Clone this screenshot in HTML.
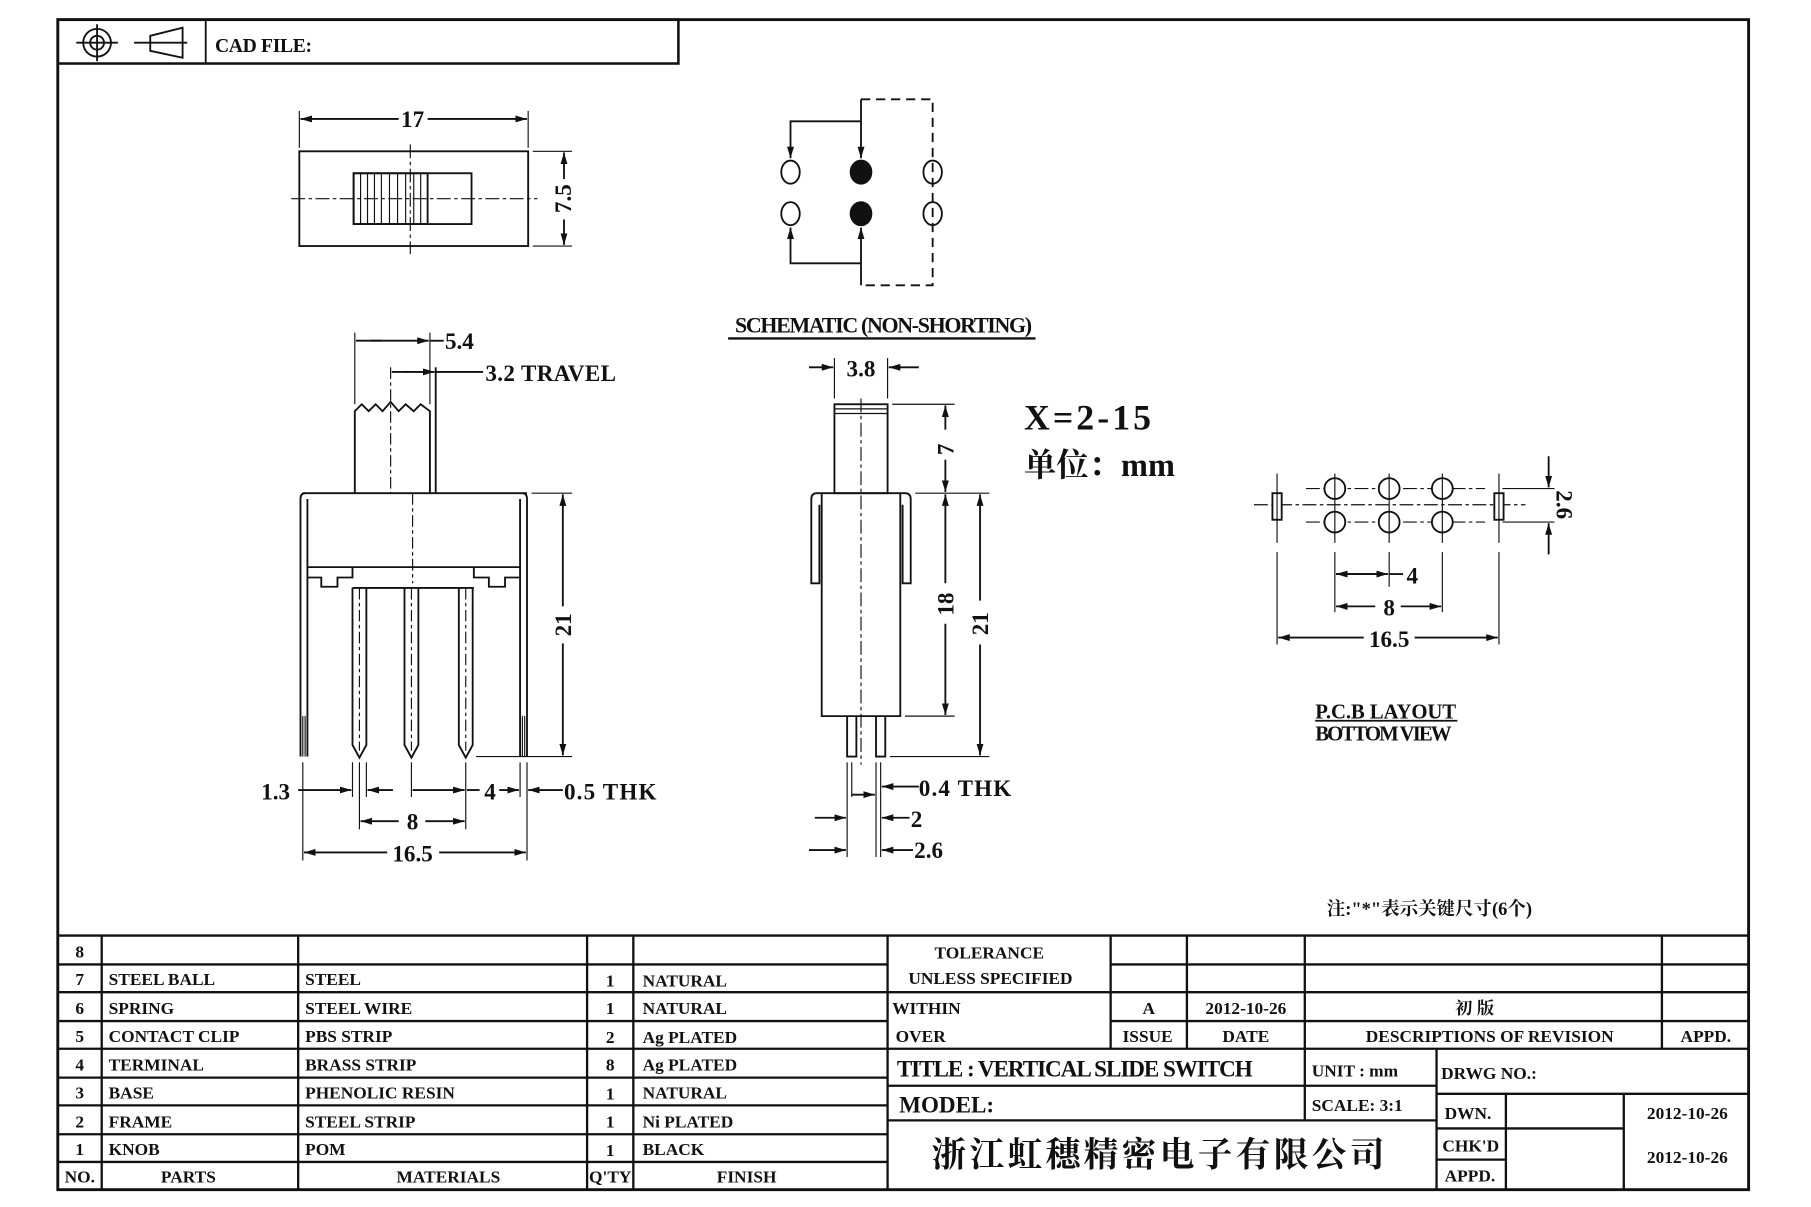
<!DOCTYPE html>
<html><head><meta charset="utf-8"><style>
html,body{margin:0;padding:0;background:#fff}
svg{display:block}
text{font-family:"Liberation Serif","Noto Serif CJK SC",serif;font-weight:bold;fill:#111}
.t{font-size:15px}
.c{font-family:"Liberation Serif","Noto Serif CJK SC",serif}
</style></head><body>
<svg width="1811" height="1207" viewBox="0 0 1567 1045" preserveAspectRatio="none" xmlns="http://www.w3.org/2000/svg">
<defs>
<marker id="a" markerWidth="10" markerHeight="6" refX="10" refY="3" orient="auto" markerUnits="userSpaceOnUse"><path d="M0,0 L10,3 L0,6z" fill="#111"/></marker>
</defs>
<g stroke="#111" fill="none" stroke-width="1.6">
<rect x="50" y="17" width="1463" height="1013" stroke-width="2.5"/>
<rect x="50" y="17" width="537" height="38" stroke-width="2.2"/>
<line x1="178" y1="17" x2="178" y2="55"/>
<circle cx="84" cy="37" r="12"/><circle cx="84" cy="37" r="6"/>
<line x1="66" y1="37" x2="102" y2="37"/><line x1="84" y1="21" x2="84" y2="53"/>
<path d="M130,31 L158,24 L158,50 L130,44z"/><line x1="116" y1="37" x2="162" y2="37"/>

<rect x="259" y="131" width="198" height="82"/>
<rect x="306" y="150" width="102" height="44"/>
<rect x="306" y="150" width="64" height="44"/>
<g stroke-width="1"><line x1="312" y1="150" x2="312" y2="194"/><line x1="318" y1="150" x2="318" y2="194"/><line x1="324" y1="150" x2="324" y2="194"/><line x1="330" y1="150" x2="330" y2="194"/><line x1="337" y1="150" x2="337" y2="194"/><line x1="344" y1="150" x2="344" y2="194"/><line x1="351" y1="150" x2="351" y2="194"/><line x1="358" y1="150" x2="358" y2="194"/><line x1="364" y1="150" x2="364" y2="194"/></g>
<line x1="252" y1="172" x2="465" y2="172" stroke-width="1" stroke-dasharray="12,3,3,3"/>
<line x1="355" y1="125" x2="355" y2="220" stroke-width="1" stroke-dasharray="12,3,3,3"/>
<line x1="259" y1="96" x2="259" y2="128" stroke-width="1"/><line x1="457" y1="96" x2="457" y2="128" stroke-width="1"/>
<line x1="345" y1="103" x2="260" y2="103" marker-end="url(#a)"/><line x1="370" y1="103" x2="456" y2="103" marker-end="url(#a)"/>
<line x1="461" y1="131" x2="495" y2="131" stroke-width="1"/><line x1="461" y1="213" x2="495" y2="213" stroke-width="1"/>
<line x1="488" y1="155" x2="488" y2="132" marker-end="url(#a)"/><line x1="488" y1="190" x2="488" y2="212" marker-end="url(#a)"/>

<ellipse cx="684" cy="149" rx="8" ry="10"/><ellipse cx="684" cy="185" rx="8" ry="10"/>
<ellipse cx="807" cy="149" rx="8" ry="10"/><ellipse cx="807" cy="185" rx="8" ry="10"/>
<ellipse cx="745" cy="149" rx="9" ry="10" fill="#111"/><ellipse cx="745" cy="185" rx="9" ry="10" fill="#111"/>
<path d="M745,105 L684,105 L684,137" marker-end="url(#a)"/><line x1="745" y1="86" x2="745" y2="137" marker-end="url(#a)"/>
<path d="M745,228 L684,228 L684,197" marker-end="url(#a)"/><line x1="745" y1="247" x2="745" y2="197" marker-end="url(#a)"/>
<path d="M745,86 L807,86 L807,247 L745,247" stroke-dasharray="8,5"/>
<line x1="630" y1="293" x2="896" y2="293" stroke-width="2"/>

<path d="M307,427 L307,356 L313,350 L319,356 L325,350 L331,356 L338,348 L345,356 L351,350 L358,356 L364,350 L372,356 L372,427"/>
<line x1="377" y1="318" x2="377" y2="427"/>
<line x1="338" y1="318" x2="338" y2="427" stroke-width="1" stroke-dasharray="10,3,3,3"/>
<line x1="307" y1="288" x2="307" y2="350" stroke-width="1"/><line x1="372" y1="288" x2="372" y2="350" stroke-width="1"/>
<line x1="320" y1="295" x2="371" y2="295" marker-end="url(#a)"/><line x1="308" y1="295" x2="330" y2="295"/><line x1="372" y1="295" x2="384" y2="295"/>
<line x1="350" y1="322" x2="376" y2="322" marker-end="url(#a)"/><line x1="339" y1="322" x2="352" y2="322"/><line x1="377" y1="322" x2="418" y2="322"/>
<path d="M262,427 L456,427 M260,432 L260,655 M266,432 L266,655 M456,432 L456,655 M450,432 L450,655"/>
<path d="M260,432 Q260,427 264,427 M456,432 Q456,427 452,427"/>
<path d="M266,491 L450,491 M266,500 L278,500 L278,508 L292,508 L292,500 L305,500 L305,491 M410,491 L410,500 L423,500 L423,508 L437,508 L437,500 L450,500"/>
<line x1="305" y1="509" x2="410" y2="509"/>
<line x1="357" y1="427" x2="357" y2="505" stroke-width="1" stroke-dasharray="10,3,3,3"/>
<path d="M305,509 L305,645 L311,656 L317,645 L317,509"/>
<path d="M350,509 L350,645 L356,656 L362,645 L362,509"/>
<path d="M397,509 L397,645 L403,656 L409,645 L409,509"/>
<line x1="311" y1="509" x2="311" y2="650" stroke-width="1" stroke-dasharray="10,3,3,3"/>
<line x1="356" y1="509" x2="356" y2="650" stroke-width="1" stroke-dasharray="10,3,3,3"/>
<line x1="403" y1="509" x2="403" y2="650" stroke-width="1" stroke-dasharray="10,3,3,3"/>
<g stroke-width="1"><line x1="262" y1="620" x2="262" y2="655"/><line x1="264" y1="620" x2="264" y2="655"/><line x1="452" y1="620" x2="452" y2="655"/><line x1="454" y1="620" x2="454" y2="655"/></g>
<line x1="460" y1="427" x2="495" y2="427" stroke-width="1"/><line x1="412" y1="655" x2="495" y2="655" stroke-width="1"/>
<line x1="487" y1="525" x2="487" y2="428" marker-end="url(#a)"/><line x1="487" y1="557" x2="487" y2="654" marker-end="url(#a)"/>
<g stroke-width="1"><line x1="262" y1="660" x2="262" y2="745"/><line x1="305" y1="660" x2="305" y2="690"/><line x1="311" y1="660" x2="311" y2="718"/><line x1="317" y1="660" x2="317" y2="690"/><line x1="356" y1="660" x2="356" y2="690"/><line x1="403" y1="660" x2="403" y2="718"/><line x1="450" y1="660" x2="450" y2="690"/><line x1="456" y1="660" x2="456" y2="745"/></g>
<line x1="258" y1="684" x2="304" y2="684" marker-end="url(#a)"/><line x1="340" y1="684" x2="318" y2="684" marker-end="url(#a)"/>
<line x1="357" y1="684" x2="402" y2="684" marker-end="url(#a)"/><line x1="415" y1="684" x2="404" y2="684"/><line x1="432" y1="684" x2="449" y2="684" marker-end="url(#a)"/>
<line x1="487" y1="684" x2="457" y2="684" marker-end="url(#a)"/>
<line x1="345" y1="711" x2="312" y2="711" marker-end="url(#a)"/><line x1="368" y1="711" x2="402" y2="711" marker-end="url(#a)"/>
<line x1="335" y1="738" x2="263" y2="738" marker-end="url(#a)"/><line x1="380" y1="738" x2="455" y2="738" marker-end="url(#a)"/>

<rect x="722" y="350" width="46" height="77"/>
<line x1="722" y1="354" x2="768" y2="354" stroke-width="1"/><line x1="722" y1="358" x2="768" y2="358" stroke-width="1"/>
<path d="M702,432 Q702,427 707,427 L783,427 Q788,427 788,432 L788,505 L781,505 L781,437 M702,432 L702,505 L709,505 L709,437"/>
<path d="M711,427 L711,620 L779,620 L779,427"/>
<path d="M733,620 L733,655 L741,655 L741,620 M758,620 L758,655 L766,655 L766,620"/>
<line x1="745" y1="345" x2="745" y2="662" stroke-width="1" stroke-dasharray="12,3,3,3"/>
<line x1="722" y1="310" x2="722" y2="345" stroke-width="1"/><line x1="768" y1="310" x2="768" y2="345" stroke-width="1"/>
<line x1="700" y1="318" x2="721" y2="318" marker-end="url(#a)"/><line x1="795" y1="318" x2="769" y2="318" marker-end="url(#a)"/>
<line x1="772" y1="350" x2="826" y2="350" stroke-width="1"/><line x1="792" y1="427" x2="856" y2="427" stroke-width="1"/>
<line x1="783" y1="620" x2="826" y2="620" stroke-width="1"/><line x1="770" y1="655" x2="856" y2="655" stroke-width="1"/>
<line x1="818" y1="372" x2="818" y2="351" marker-end="url(#a)"/><line x1="818" y1="398" x2="818" y2="426" marker-end="url(#a)"/>
<line x1="818" y1="505" x2="818" y2="428" marker-end="url(#a)"/><line x1="818" y1="540" x2="818" y2="619" marker-end="url(#a)"/>
<line x1="848" y1="520" x2="848" y2="428" marker-end="url(#a)"/><line x1="848" y1="558" x2="848" y2="654" marker-end="url(#a)"/>
<g stroke-width="1"><line x1="733" y1="660" x2="733" y2="742"/><line x1="737" y1="660" x2="737" y2="690"/><line x1="758" y1="660" x2="758" y2="742"/><line x1="762" y1="660" x2="762" y2="742"/></g>
<line x1="737" y1="688" x2="757" y2="688" marker-end="url(#a)"/><line x1="795" y1="681" x2="763" y2="681" marker-end="url(#a)"/>
<line x1="705" y1="708" x2="732" y2="708" marker-end="url(#a)"/><line x1="787" y1="708" x2="763" y2="708" marker-end="url(#a)"/>
<line x1="700" y1="736" x2="732" y2="736" marker-end="url(#a)"/><line x1="790" y1="736" x2="763" y2="736" marker-end="url(#a)"/>

<line x1="1085" y1="437" x2="1320" y2="437" stroke-width="1" stroke-dasharray="12,3,3,3"/>
<line x1="1130" y1="423" x2="1285" y2="423" stroke-width="1" stroke-dasharray="12,3,3,3"/>
<line x1="1130" y1="452" x2="1285" y2="452" stroke-width="1" stroke-dasharray="12,3,3,3"/>
<g fill="#fff">
<circle cx="1155" cy="423" r="9"/><circle cx="1202" cy="423" r="9"/><circle cx="1248" cy="423" r="9"/>
<circle cx="1155" cy="452" r="9"/><circle cx="1202" cy="452" r="9"/><circle cx="1248" cy="452" r="9"/>
<rect x="1101" y="427" width="8" height="23"/><rect x="1293" y="427" width="8" height="23"/>
</g>
<g stroke-width="1">
<line x1="1155" y1="410" x2="1155" y2="470"/><line x1="1202" y1="410" x2="1202" y2="470"/><line x1="1248" y1="410" x2="1248" y2="470"/>
<line x1="1105" y1="410" x2="1105" y2="470"/><line x1="1297" y1="410" x2="1297" y2="470"/>
<line x1="1155" y1="478" x2="1155" y2="530"/><line x1="1202" y1="478" x2="1202" y2="508"/><line x1="1248" y1="478" x2="1248" y2="530"/>
<line x1="1105" y1="478" x2="1105" y2="558"/><line x1="1297" y1="478" x2="1297" y2="558"/>
<line x1="1300" y1="423" x2="1345" y2="423"/><line x1="1300" y1="452" x2="1345" y2="452"/>
</g>
<line x1="1340" y1="395" x2="1340" y2="422" marker-end="url(#a)"/><line x1="1340" y1="480" x2="1340" y2="453" marker-end="url(#a)"/>
<line x1="1156" y1="497" x2="1201" y2="497" marker-end="url(#a)"/><line x1="1200" y1="497" x2="1156" y2="497" marker-end="url(#a)"/><line x1="1202" y1="497" x2="1214" y2="497"/>
<line x1="1190" y1="525" x2="1156" y2="525" marker-end="url(#a)"/><line x1="1212" y1="525" x2="1247" y2="525" marker-end="url(#a)"/>
<line x1="1180" y1="552" x2="1106" y2="552" marker-end="url(#a)"/><line x1="1224" y1="552" x2="1296" y2="552" marker-end="url(#a)"/>
<line x1="1138" y1="624" x2="1261" y2="624" stroke-width="1.5"/>

<g stroke-width="2">
<line x1="50" y1="810" x2="1513" y2="810"/>
<line x1="50" y1="835" x2="768" y2="835"/><line x1="961" y1="835" x2="1513" y2="835"/>
<line x1="50" y1="859" x2="1513" y2="859"/>
<line x1="50" y1="884" x2="768" y2="884"/><line x1="961" y1="884" x2="1513" y2="884"/>
<line x1="50" y1="908" x2="1513" y2="908"/>
<line x1="50" y1="933" x2="768" y2="933"/>
<line x1="768" y1="940" x2="1243" y2="940"/>
<line x1="50" y1="957" x2="768" y2="957"/>
<line x1="1243" y1="947" x2="1513" y2="947"/>
<line x1="768" y1="970" x2="1243" y2="970"/>
<line x1="50" y1="982" x2="768" y2="982"/>
<line x1="1243" y1="977" x2="1405" y2="977"/>
<line x1="50" y1="1006" x2="768" y2="1006"/>
<line x1="1243" y1="1004" x2="1303" y2="1004"/>
<line x1="88" y1="810" x2="88" y2="1030"/><line x1="258" y1="810" x2="258" y2="1030"/>
<line x1="508" y1="810" x2="508" y2="1030"/><line x1="548" y1="810" x2="548" y2="1030"/>
<line x1="768" y1="810" x2="768" y2="1030"/>
<line x1="961" y1="810" x2="961" y2="908"/><line x1="1027" y1="810" x2="1027" y2="908"/>
<line x1="1129" y1="810" x2="1129" y2="970"/><line x1="1438" y1="810" x2="1438" y2="908"/>
<line x1="1243" y1="908" x2="1243" y2="1030"/><line x1="1303" y1="947" x2="1303" y2="1030"/><line x1="1405" y1="947" x2="1405" y2="1030"/>
</g>
</g>

<text x="186" y="45" font-size="17" textLength="84">CAD FILE:</text>
<text x="357" y="110" font-size="20" text-anchor="middle">17</text>
<text transform="translate(494,172) rotate(-90)" font-size="20" text-anchor="middle">7.5</text>
<text x="636" y="288" font-size="19" textLength="257">SCHEMATIC (NON-SHORTING)</text>
<text x="385" y="302" font-size="20">5.4</text>
<text x="420" y="330" font-size="20" textLength="113">3.2 TRAVEL</text>
<text transform="translate(494,541) rotate(-90)" font-size="20" text-anchor="middle">21</text>
<text x="226" y="692" font-size="20">1.3</text>
<text x="419" y="692" font-size="20">4</text>
<text x="488" y="692" font-size="20" textLength="80">0.5 THK</text>
<text x="357" y="718" font-size="20" text-anchor="middle">8</text>
<text x="357" y="746" font-size="20" text-anchor="middle">16.5</text>
<text x="745" y="326" font-size="20" text-anchor="middle">3.8</text>
<text transform="translate(825,389) rotate(-90)" font-size="20" text-anchor="middle">7</text>
<text transform="translate(825,523) rotate(-90)" font-size="20" text-anchor="middle">18</text>
<text transform="translate(855,540) rotate(-90)" font-size="20" text-anchor="middle">21</text>
<text x="795" y="689" font-size="20" textLength="80">0.4 THK</text>
<text x="788" y="716" font-size="20">2</text>
<text x="791" y="743" font-size="20">2.6</text>
<text x="886" y="372" font-size="31" font-weight="normal" textLength="110">X=2-15</text>
<text x="886" y="412" font-size="28" font-weight="normal">单位：mm</text>
<text transform="translate(1347,437) rotate(90)" font-size="20" text-anchor="middle">2.6</text>
<text x="1217" y="505" font-size="20">4</text>
<text x="1202" y="533" font-size="20" text-anchor="middle">8</text>
<text x="1202" y="560" font-size="20" text-anchor="middle">16.5</text>
<text x="1138" y="622" font-size="18" textLength="122">P.C.B LAYOUT</text>
<text x="1138" y="641" font-size="18" textLength="118">BOTTOM VIEW</text>
<text x="1148" y="792" font-size="16" font-weight="normal">注:"*"表示关键尺寸(6个)</text>

<g class="t">
<text x="69" y="829" text-anchor="middle">8</text>
<text x="69" y="853" text-anchor="middle">7</text><text x="94" y="853">STEEL BALL</text><text x="264" y="853">STEEL</text><text x="528" y="854" text-anchor="middle">1</text><text x="556" y="854">NATURAL</text>
<text x="69" y="878" text-anchor="middle">6</text><text x="94" y="878">SPRING</text><text x="264" y="878">STEEL WIRE</text><text x="528" y="878" text-anchor="middle">1</text><text x="556" y="878">NATURAL</text>
<text x="69" y="902" text-anchor="middle">5</text><text x="94" y="902">CONTACT CLIP</text><text x="264" y="902">PBS STRIP</text><text x="528" y="903" text-anchor="middle">2</text><text x="556" y="903">Ag PLATED</text>
<text x="69" y="927" text-anchor="middle">4</text><text x="94" y="927">TERMINAL</text><text x="264" y="927">BRASS STRIP</text><text x="528" y="927" text-anchor="middle">8</text><text x="556" y="927">Ag PLATED</text>
<text x="69" y="951" text-anchor="middle">3</text><text x="94" y="951">BASE</text><text x="264" y="951">PHENOLIC RESIN</text><text x="528" y="952" text-anchor="middle">1</text><text x="556" y="951">NATURAL</text>
<text x="69" y="976" text-anchor="middle">2</text><text x="94" y="976">FRAME</text><text x="264" y="976">STEEL STRIP</text><text x="528" y="976" text-anchor="middle">1</text><text x="556" y="976">Ni PLATED</text>
<text x="69" y="1000" text-anchor="middle">1</text><text x="94" y="1000">KNOB</text><text x="264" y="1000">POM</text><text x="528" y="1001" text-anchor="middle">1</text><text x="556" y="1000">BLACK</text>
<text x="69" y="1024" text-anchor="middle">NO.</text><text x="163" y="1024" text-anchor="middle">PARTS</text><text x="388" y="1024" text-anchor="middle">MATERIALS</text><text x="528" y="1024" text-anchor="middle">Q'TY</text><text x="646" y="1024" text-anchor="middle">FINISH</text>
<text x="856" y="830" text-anchor="middle">TOLERANCE</text>
<text x="857" y="852" text-anchor="middle">UNLESS  SPECIFIED</text>
<text x="772" y="878">WITHIN</text><text x="775" y="902">OVER</text>
<text x="994" y="878" text-anchor="middle">A</text><text x="1078" y="878" text-anchor="middle">2012-10-26</text>
<text x="1276" y="878" text-anchor="middle" class="c">初 版</text>
<text x="993" y="902" text-anchor="middle">ISSUE</text><text x="1078" y="902" text-anchor="middle">DATE</text>
<text x="1289" y="902" text-anchor="middle">DESCRIPTIONS OF REVISION</text><text x="1476" y="902" text-anchor="middle">APPD.</text>
<text x="1135" y="932">UNIT :  mm</text><text x="1135" y="962">SCALE:  3:1</text>
<text x="1247" y="934">DRWG NO.:</text>
<text x="1250" y="969">DWN.</text><text x="1460" y="969" text-anchor="middle">2012-10-26</text>
<text x="1248" y="997">CHK'D</text><text x="1460" y="1007" text-anchor="middle">2012-10-26</text>
<text x="1250" y="1023">APPD.</text>
</g>
<text x="776" y="932" font-size="20" textLength="308">TITLE :  VERTICAL SLIDE SWITCH</text>
<text x="778" y="963" font-size="20">MODEL:</text>
<text x="806" y="1010" font-size="30" font-weight="normal" textLength="392">浙江虹穗精密电子有限公司</text>
</svg>
</body></html>
